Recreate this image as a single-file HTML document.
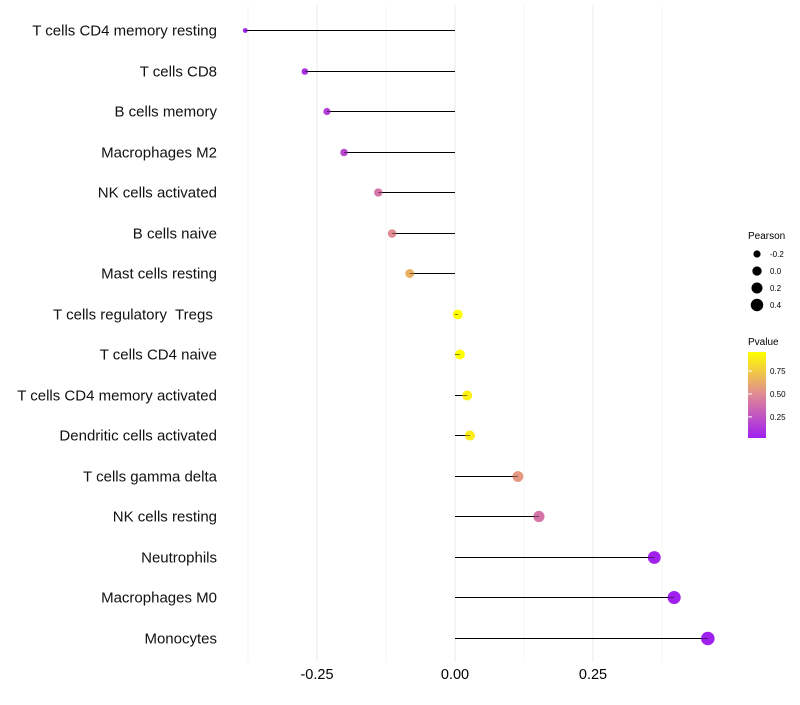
<!DOCTYPE html>
<html><head><meta charset="utf-8"><style>
body{margin:0;background:#fff;font-family:"Liberation Sans",sans-serif}
text{white-space:pre}
</style></head><body>
<svg id="chart" width="800" height="700" xmlns="http://www.w3.org/2000/svg" font-family="Liberation Sans, sans-serif"></svg>
<script>
const categories=["T cells CD4 memory resting","T cells CD8","B cells memory","Macrophages M2","NK cells activated","B cells naive","Mast cells resting","T cells regulatory  Tregs ","T cells CD4 naive","T cells CD4 memory activated","Dendritic cells activated","T cells gamma delta","NK cells resting","Neutrophils","Macrophages M0","Monocytes"];
const pearson=[-0.380,-0.272,-0.232,-0.201,-0.139,-0.114,-0.082,0.005,0.009,0.022,0.027,0.114,0.152,0.361,0.397,0.458];
const pvalue=[0.02,0.10,0.15,0.20,0.40,0.50,0.65,0.97,0.96,0.90,0.88,0.55,0.40,0.03,0.02,0.01];
const xTicks=[-0.25,0,0.25];
const xTickLabels=["-0.25","0.00","0.25"];
const xMinor=[-0.375,-0.125,0.125,0.375];
const sizeLegend=[-0.2,0.0,0.2,0.4];
const sizeLegendLabels=["-0.2","0.0","0.2","0.4"];
const colorTicks=[0.25,0.5,0.75];
const colorTickLabels=["0.25","0.50","0.75"];

const NS="http://www.w3.org/2000/svg";
const svg=document.getElementById('chart');
const X=v=>455+v*552;
const Y=i=>Math.round(30+i*40.5)+0.5;
const R=p=>Math.sqrt(Math.max(1.5,24+48*p));
function col(p){
  const t=Math.max(0,Math.min(1,(p-0.02)/(0.957-0.02)));
  const stops=[[0,[160,32,240]],[0.5,[224,136,150]],[1,[255,255,0]]];
  let a=stops[0],b=stops[1];if(t>0.5){a=stops[1];b=stops[2];}
  const u=(t-a[0])/(b[0]-a[0]);
  return 'rgb('+a[1].map((c,k)=>Math.round(c+(b[1][k]-c)*u)).join(',')+')';
}
function el(tag,attrs,txt){const e=document.createElementNS(NS,tag);for(const k in attrs)e.setAttribute(k,attrs[k]);if(txt!==undefined)e.textContent=txt;svg.appendChild(e);return e;}

xMinor.forEach(v=>{const e=el('line',{x1:X(v),x2:X(v),y1:5,y2:662,stroke:'#f4f4f4','stroke-width':1});

});
xTicks.forEach((v,i)=>{const e=el('line',{x1:X(v),x2:X(v),y1:5,y2:662,stroke:'#ebebeb','stroke-width':1});


const t=el('text',{x:X(v),y:679,'text-anchor':'middle','font-size':14.5,fill:'#000'},xTickLabels[i]);

});

categories.forEach((c,i)=>{
  const t=el('text',{x:217,y:Y(i)+5,'text-anchor':'end','font-size':15,fill:'#111'},c);
  
  
  const l=el('line',{x1:X(0),x2:X(pearson[i]),y1:Y(i),y2:Y(i),stroke:'#000','stroke-width':1});
  
  
  const d=el('circle',{cx:X(pearson[i]),cy:Y(i),r:R(pearson[i]),fill:col(pvalue[i])});
  
  
  const l2=el('line',{x1:X(0),x2:X(pearson[i]),y1:Y(i),y2:Y(i),stroke:'#000','stroke-width':1,'stroke-opacity':0.5});
  
  
});

let lt=el('text',{x:748,y:239,'font-size':10,fill:'#000'},'Pearson');


sizeLegend.forEach((v,i)=>{const y=254+i*17;
  const c=el('circle',{cx:757,cy:y,r:R(v)*0.95,fill:'#000'});
  
  
  const t=el('text',{x:770,y:y+3,'font-size':8,fill:'#000'},sizeLegendLabels[i]);
  
  });

lt=el('text',{x:748,y:345,'font-size':10,fill:'#000'},'Pvalue');


const defs=el('defs',{});
const g=document.createElementNS(NS,'linearGradient');g.setAttribute('id','pg');g.setAttribute('x1','0');g.setAttribute('y1','1');g.setAttribute('x2','0');g.setAttribute('y2','0');defs.appendChild(g);
for(let k=0;k<=10;k++){const s=document.createElementNS(NS,'stop');s.setAttribute('offset',k/10);s.setAttribute('stop-color',col(0.02+k/10*(0.957-0.02)));g.appendChild(s);}
const bar=el('rect',{x:748,y:352,width:18,height:86,fill:'url(#pg)'});


const CY=v=>438-(v-0.02)/(0.957-0.02)*86;
colorTicks.forEach((v,i)=>{
  const tk=el('line',{x1:748,x2:752,y1:CY(v),y2:CY(v),stroke:'#fff'});
  
  
  const t=el('text',{x:770,y:CY(v)+3,'font-size':8,fill:'#000'},colorTickLabels[i]);
  
  });
</script>
</body></html>
